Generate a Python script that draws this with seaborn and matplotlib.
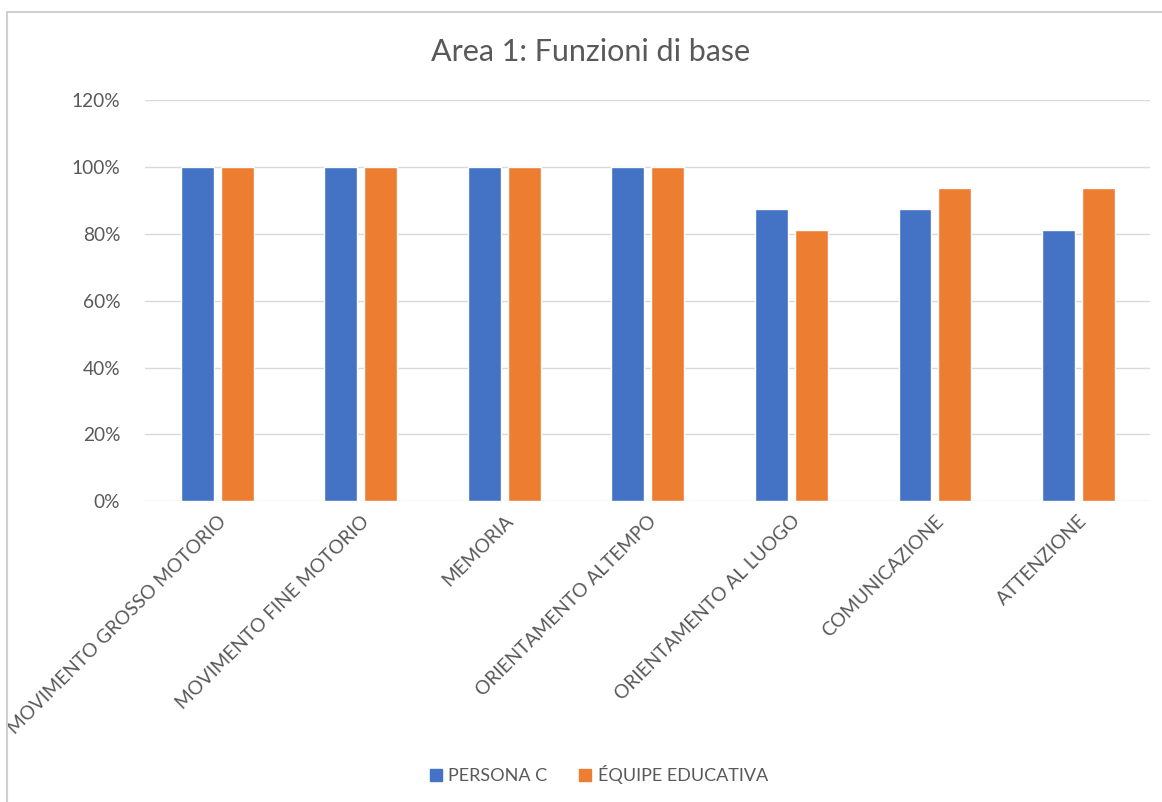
import matplotlib
matplotlib.use("Agg")
import matplotlib.pyplot as plt
from matplotlib.lines import Line2D
from matplotlib.ticker import PercentFormatter, MultipleLocator
import seaborn as sns
import pandas as pd

categories = [
    "MOVIMENTO GROSSO MOTORIO",
    "MOVIMENTO FINE MOTORIO",
    "MEMORIA",
    "ORIENTAMENTO ALTEMPO",
    "ORIENTAMENTO AL LUOGO",
    "COMUNICAZIONE",
    "ATTENZIONE",
]
series_names = ["PERSONA C", "ÉQUIPE EDUCATIVA"]
persona_c = [1.00, 1.00, 1.00, 1.00, 0.875, 0.875, 0.8125]
equipe = [1.00, 1.00, 1.00, 1.00, 0.8125, 0.9375, 0.9375]
colors = ["#4472C4", "#ED7D31"]

df = pd.DataFrame({
    "categoria": categories * 2,
    "valore": persona_c + equipe,
    "serie": [series_names[0]] * len(categories) + [series_names[1]] * len(categories),
})

sns.set_theme(style="white")
plt.rcParams["font.family"] = ["Lato", "DejaVu Sans"]
text_color = "#595959"

fig = plt.figure(figsize=(11.62, 8.02), dpi=100)
ax = fig.add_axes([0.125, 0.375, 0.865, 0.50])

sns.barplot(data=df, x="categoria", y="valore", hue="serie", order=categories,
            hue_order=series_names, palette=colors, width=0.557, gap=0.175,
            saturation=1, errorbar=None, ax=ax, legend=False, zorder=3)

ax.set_ylim(0, 1.2)
ax.set_xlim(-0.5, len(categories) - 0.5)
ax.yaxis.set_major_locator(MultipleLocator(0.2))
ax.yaxis.set_major_formatter(PercentFormatter(1.0, decimals=0))
ax.grid(axis="y", color="#d9d9d9", linewidth=1.0, zorder=0)
ax.set_axisbelow(True)
for s in ax.spines.values():
    s.set_visible(False)
ax.set_xlabel("")
ax.set_ylabel("")
ax.tick_params(axis="both", length=0, labelsize=13.8, colors=text_color)
ax.tick_params(axis="y", pad=18)
ax.tick_params(axis="x", pad=8)
for lbl in ax.get_xticklabels():
    lbl.set_rotation(45)
    lbl.set_ha("right")
    lbl.set_rotation_mode("anchor")

fig.text(0.508, 0.935, "Area 1: Funzioni di base", ha="center", va="center",
         fontsize=22, color=text_color)

handles = [Line2D([], [], marker="s", linestyle="none", markersize=8,
                  markerfacecolor=c, markeredgecolor=c) for c in colors]
fig.legend(handles, series_names, loc="center", bbox_to_anchor=(0.514, 0.034),
           ncol=2, frameon=False, fontsize=13, labelcolor=text_color,
           handletextpad=0.2, columnspacing=1.6, handlelength=1.0)

# outer chart frame
fig.add_artist(Line2D([0.006, 0.006], [0.0, 0.985], transform=fig.transFigure,
                      color="#d0d0d0", linewidth=1.5))
fig.add_artist(Line2D([0.006, 1.0], [0.985, 0.985], transform=fig.transFigure,
                      color="#d0d0d0", linewidth=1.5))

fig.savefig("out.png", dpi=100, facecolor="white")
